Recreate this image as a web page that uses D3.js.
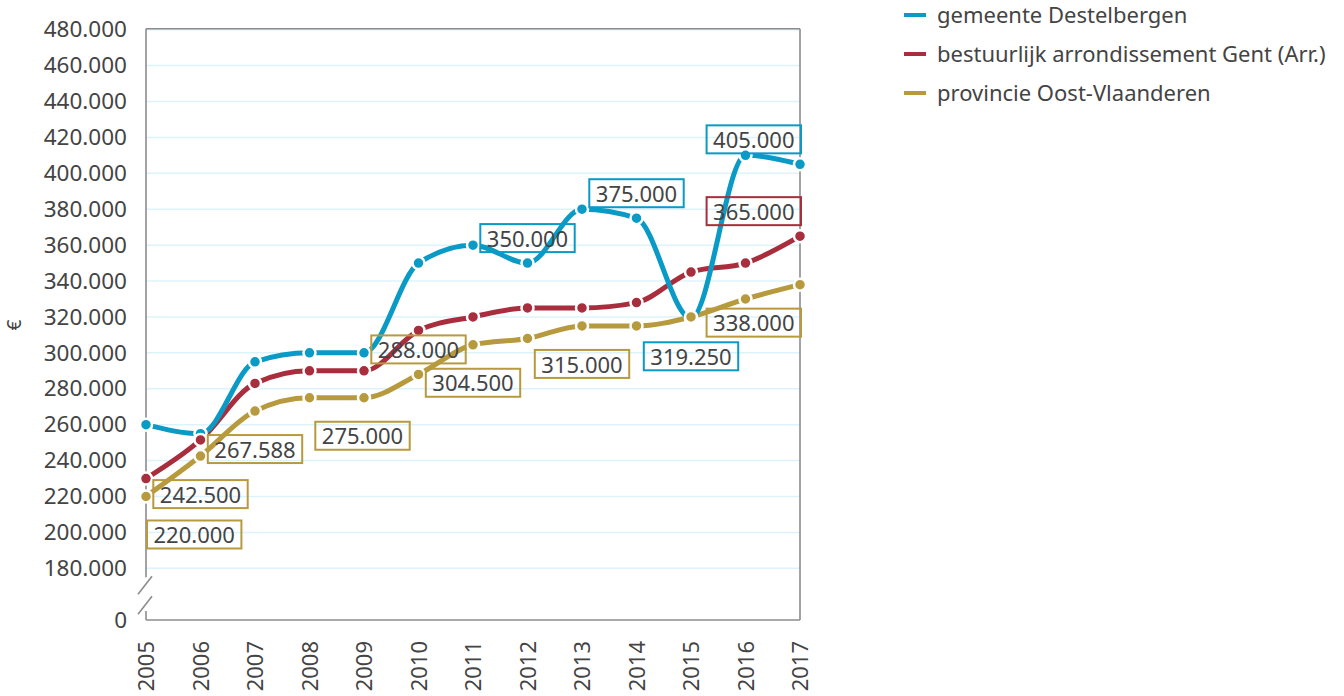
<!DOCTYPE html>
<html>
<head>
<meta charset="utf-8">
<script src="https://cdn.jsdelivr.net/npm/d3@7"></script>
<style>
  html, body { margin: 0; padding: 0; background: #fff; }
  svg { display: block; font-family: "Noto Sans", "Open Sans", sans-serif; }
</style>
</head>
<body>
<svg id="chart" width="1344" height="696"></svg>
<script>
// Years on the x axis
const years = [2005, 2006, 2007, 2008, 2009, 2010, 2011, 2012, 2013, 2014, 2015, 2016, 2017];

// Median price (euro) per area
const destelbergen  = [260000, 255000, 295000, 300000, 300000, 350000, 360000, 350000, 380000, 375000, 319250, 410000, 405000];
const arrondissement = [230000, 251500, 283000, 290000, 290000, 312500, 320000, 325000, 325000, 328000, 345000, 350000, 365000];
const provincie     = [220000, 242500, 267588, 275000, 275000, 288000, 304500, 308000, 315000, 315000, 320000, 330000, 338000];

const seriesNames = ["gemeente Destelbergen", "bestuurlijk arrondissement Gent (Arr.)", "provincie Oost-Vlaanderen"];

// Y tick values (broken axis: 0, then 180.000 .. 480.000)
const yTicks = [0, 180000, 200000, 220000, 240000, 260000, 280000, 300000, 320000, 340000, 360000, 380000, 400000, 420000, 440000, 460000, 480000];

// Labelled points: series index, year
const labelledPoints = [
  [0, 2012], [0, 2014], [0, 2015], [0, 2017],
  [1, 2017],
  [2, 2005], [2, 2006], [2, 2007], [2, 2008], [2, 2010], [2, 2011], [2, 2013], [2, 2017]
];

// ---- styling & layout ----
const colors = ["#0a9ac6", "#a82d3d", "#b89a3e"];
const textColor = "#444";
const gridColor = "#ddf3fb";
const frameColor = "#8c8c8c";

// label placement: above / below the point, plus a horizontal shift
const labelPlacement = {
  "0-2012": {pos: "above"}, "0-2014": {pos: "above"}, "0-2015": {pos: "below"}, "0-2017": {pos: "above"},
  "1-2017": {pos: "above"},
  "2-2005": {pos: "below"}, "2-2006": {pos: "below"}, "2-2007": {pos: "below"},
  "2-2008": {pos: "below", shift: 53}, "2-2010": {pos: "above"}, "2-2011": {pos: "below"},
  "2-2013": {pos: "below"}, "2-2017": {pos: "below"}
};

const svg = d3.select("#chart");
const plotLeft = 146, plotRight = 800, plotTop = 29.7, breakY = 568.3, plotBottom = 620;

const x = d3.scaleLinear().domain([2005, 2017]).range([plotLeft, plotRight]);
const y = d3.scaleLinear().domain([0, 180000, 480000]).range([plotBottom, breakY, plotTop]);

const nl = d3.formatLocale({decimal: ",", thousands: ".", grouping: [3], currency: ["€", ""]});
const fmt = nl.format(",.0f");

const allSeries = [destelbergen, arrondissement, provincie];

// grid lines
svg.append("g")
  .selectAll("line")
  .data(yTicks.filter(d => d >= 180000))
  .join("line")
  .attr("x1", plotLeft).attr("x2", plotRight)
  .attr("y1", d => y(d)).attr("y2", d => y(d))
  .attr("stroke", gridColor).attr("stroke-width", 1.5);

// frame
const frame = svg.append("g").attr("stroke", frameColor).attr("stroke-width", 1.6).attr("fill", "none");
frame.append("line").attr("x1", plotLeft).attr("x2", plotRight).attr("y1", plotTop - 1).attr("y2", plotTop - 1);
frame.append("line").attr("x1", plotRight).attr("x2", plotRight).attr("y1", plotTop - 1).attr("y2", plotBottom);
frame.append("line").attr("x1", plotLeft).attr("x2", plotRight).attr("y1", plotBottom).attr("y2", plotBottom);
frame.append("line").attr("x1", plotLeft).attr("x2", plotLeft).attr("y1", plotTop - 1).attr("y2", breakY + 9);
frame.append("line").attr("x1", plotLeft).attr("x2", plotLeft).attr("y1", plotBottom - 9).attr("y2", plotBottom);
// axis break marks
frame.append("line").attr("x1", plotLeft - 8).attr("y1", breakY + 26).attr("x2", plotLeft + 6).attr("y2", breakY + 8);
frame.append("line").attr("x1", plotLeft - 8).attr("y1", breakY + 46).attr("x2", plotLeft + 6).attr("y2", breakY + 28);

// y axis
const yAxis = svg.append("g")
  .attr("transform", `translate(${plotLeft},0)`)
  .call(d3.axisLeft(y).tickValues(yTicks).tickSize(0).tickPadding(19).tickFormat(fmt));
yAxis.select(".domain").remove();
yAxis.selectAll("text").attr("fill", textColor).style("font-size", "22.5px").style("font-family", "'Noto Sans', sans-serif");

// y axis title
svg.append("text")
  .attr("transform", "translate(21,325) rotate(-90)")
  .attr("text-anchor", "middle")
  .attr("fill", textColor)
  .style("font-size", "19px")
  .text("€");

// x axis
const xAxis = svg.append("g")
  .attr("transform", `translate(0,${plotBottom})`)
  .call(d3.axisBottom(x).tickValues(years).tickSize(0).tickFormat(d3.format("d")));
xAxis.select(".domain").remove();
xAxis.selectAll("text")
  .attr("fill", textColor)
  .style("font-size", "22px")
  .style("font-family", "'Noto Sans', sans-serif")
  .attr("text-anchor", "end")
  .attr("transform", "translate(0,21) rotate(-90)")
  .attr("x", 0).attr("y", 0).attr("dy", "0.35em");

// lines
const line = d3.line().x((d, i) => x(years[i])).y(d => y(d)).curve(d3.curveMonotoneX);
const lineOrder = [2, 1, 0];
lineOrder.forEach(s => {
  svg.append("path")
    .datum(allSeries[s])
    .attr("d", line)
    .attr("fill", "none")
    .attr("stroke", colors[s])
    .attr("stroke-width", 5)
    .attr("stroke-linejoin", "round")
    .attr("stroke-linecap", "round");
});

// markers
[0, 1, 2].forEach(s => {
  svg.append("g")
    .selectAll("circle")
    .data(allSeries[s])
    .join("circle")
    .attr("cx", (d, i) => x(years[i]))
    .attr("cy", d => y(d))
    .attr("r", 6)
    .attr("fill", colors[s])
    .attr("stroke", "#fff")
    .attr("stroke-width", 2.5);
});

// data labels
const labelG = svg.append("g");
labelledPoints.forEach(([s, yr]) => {
  const i = years.indexOf(yr);
  const v = allSeries[s][i];
  const px = x(yr), py = y(v);
  const place = labelPlacement[`${s}-${yr}`] || {pos: "below"};
  const g = labelG.append("g");
  const t = g.append("text")
    .attr("fill", textColor)
    .style("font-size", "22px")
    .attr("text-anchor", "middle")
    .attr("dy", "0.35em")
    .text(fmt(v));
  const tw = t.node().getComputedTextLength();
  const bw = tw + 13, bh = 28;
  let bx = px - bw / 2 + (place.shift || 0);
  bx = Math.max(plotLeft + 1, Math.min(plotRight + 1 - bw, bx));
  const by = place.pos === "above" ? py - 11 - bh : py + 24;
  g.insert("rect", "text")
    .attr("x", bx).attr("y", by).attr("width", bw).attr("height", bh)
    .attr("fill", "none").attr("stroke", colors[s]).attr("stroke-width", 2);
  t.attr("x", bx + bw / 2).attr("y", by + bh / 2 + 1);
});

// legend
const legend = svg.append("g").attr("transform", "translate(904,15)");
seriesNames.forEach((name, k) => {
  const g = legend.append("g").attr("transform", `translate(0,${k * 39})`);
  g.append("line").attr("x1", 0).attr("x2", 22).attr("y1", 0).attr("y2", 0)
    .attr("stroke", colors[k]).attr("stroke-width", 4);
  g.append("text").attr("x", 33).attr("y", 0).attr("dy", "0.35em")
    .attr("fill", textColor).style("font-size", "22px").text(name);
});
</script>
</body>
</html>
